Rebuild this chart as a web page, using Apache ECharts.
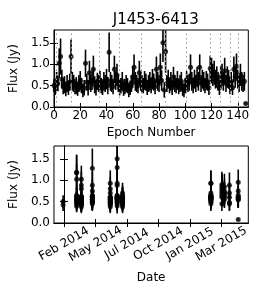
<!DOCTYPE html>
<html>
<head>
<meta charset="utf-8">
<script src="https://cdn.jsdelivr.net/npm/echarts@6/dist/echarts.min.js"></script>
<style>html,body{margin:0;padding:0;background:#fff}#c{width:263px;height:300px}</style>
</head>
<body>
<div id="c"></div>
<script>
// Flux per epoch (Jy), epochs 0..146
const fluxValues = [
0.50,0.42,0.62,0.55,1.02,1.18,0.65,0.48,0.52,0.40,
0.55,0.45,0.58,1.18,0.60,0.55,0.48,0.50,0.42,0.55,
0.62,0.50,0.38,0.45,1.02,0.58,0.45,0.80,0.55,0.62,
0.88,0.52,0.45,0.60,0.55,0.62,0.50,0.45,0.60,0.55,
0.65,0.50,1.28,0.60,0.55,0.48,0.88,0.62,0.75,0.55,
0.45,0.50,0.60,0.42,0.48,0.55,0.50,0.38,0.45,0.55,
0.70,0.93,0.60,0.55,0.50,0.80,0.60,0.55,0.50,0.62,
0.58,0.45,0.55,0.60,0.50,0.65,0.58,0.48,0.88,0.60,
0.55,0.93,0.62,1.50,0.40,1.30,0.55,0.65,0.50,0.60,
0.45,0.70,0.55,0.50,0.62,0.48,0.55,0.60,0.42,0.38,
0.50,0.62,0.55,0.58,0.93,0.60,0.50,0.65,0.55,0.70,
0.60,0.93,0.55,0.65,0.60,0.50,0.62,0.58,0.45,0.90,
0.85,0.75,0.80,0.65,0.70,0.60,0.45,0.70,0.75,0.60,
0.85,0.55,0.70,0.65,0.48,0.60,0.45,0.88,0.70,0.95,
0.65,0.55,0.75,0.60,0.55,0.60,0.08
];
const fluxErrors = [
0.15,0.14,0.20,0.18,0.35,0.42,0.22,0.18,0.20,0.15,
0.20,0.17,0.20,0.40,0.22,0.20,0.18,0.20,0.16,0.20,
0.22,0.18,0.15,0.18,0.32,0.20,0.18,0.28,0.20,0.22,
0.32,0.20,0.18,0.20,0.20,0.22,0.18,0.17,0.22,0.20,
0.24,0.20,0.46,0.22,0.20,0.18,0.32,0.22,0.26,0.20,
0.18,0.18,0.22,0.16,0.18,0.20,0.18,0.15,0.17,0.20,
0.25,0.30,0.22,0.20,0.18,0.28,0.22,0.20,0.18,0.22,
0.20,0.17,0.20,0.22,0.18,0.24,0.20,0.18,0.30,0.22,
0.20,0.32,0.24,0.45,0.18,0.50,0.20,0.22,0.18,0.22,
0.17,0.24,0.20,0.18,0.22,0.18,0.20,0.22,0.16,0.15,
0.18,0.22,0.20,0.20,0.30,0.22,0.18,0.22,0.20,0.24,
0.22,0.30,0.20,0.22,0.22,0.18,0.22,0.20,0.17,0.30,
0.30,0.26,0.28,0.22,0.25,0.22,0.17,0.25,0.26,0.22,
0.30,0.20,0.25,0.22,0.18,0.22,0.17,0.30,0.25,0.30,
0.22,0.20,0.26,0.22,0.20,0.22,0.02
];
// observing sessions: first epoch index of each, and its position on the date axis (tick units)
const sessionStart = [0, 2, 14, 35, 50, 67, 86, 101, 119, 127, 134, 139];
const sessionDatePos = [-0.03, 0.40, 0.55, 0.90, 1.47, 1.69, 1.86, 4.67, 5.02, 5.10, 5.26, 5.54];
// dotted separators on the epoch axis
const separators = [1.5, 13.5, 34.5, 50, 66.5, 84.8, 100.5, 118.7, 126.9, 134, 140.3];
const epochTicks = [0, 20, 40, 60, 80, 100, 120, 140];
const fluxTicks = [0, 0.5, 1.0, 1.5];
const dateTickLabels = ['Feb 2014', 'May 2014', 'Jul 2014', 'Oct 2014', 'Jan 2015', 'Mar 2015'];

const FONT = 'DejaVu Sans';
const topData = fluxValues.map((v, i) => [i, v, fluxErrors[i]]);
const botData = fluxValues.map((v, i) => {
  let g = 0;
  for (let k = 0; k < sessionStart.length; k++) if (i >= sessionStart[k]) g = k;
  return [sessionDatePos[g], v, fluxErrors[i]];
});
const dateTickPos = dateTickLabels.map((_, i) => i);

function errRender(params, api) {
  const x = api.value(0), y = api.value(1), e = api.value(2);
  const p1 = api.coord([x, y - e]);
  const p2 = api.coord([x, y + e]);
  return {type: 'line', shape: {x1: p1[0], y1: p1[1], x2: p2[0], y2: p2[1]},
    style: {stroke: '#000', lineWidth: 1.6}};
}

const tickStyle = {inside: true, length: 4, lineStyle: {color: '#000', width: 1}};
const lineStyle = {show: true, lineStyle: {color: '#000', width: 1}};
const labStyle = {color: '#000', fontFamily: FONT, fontSize: 12};

function yAx(gi, pos, labels) {
  return {type: 'value', gridIndex: gi, position: pos, min: 0, max: 1.8,
    axisLine: lineStyle, splitLine: {show: false},
    axisTick: Object.assign({customValues: fluxTicks}, tickStyle),
    axisLabel: labels ? Object.assign({customValues: fluxTicks, margin: 4,
      formatter: v => v.toFixed(1)}, labStyle) : {show: false},
    name: labels ? 'Flux (Jy)' : '', nameLocation: 'middle', nameGap: 31,
    nameTextStyle: {color: '#000', fontFamily: FONT, fontSize: 12}};
}

const chart = echarts.init(document.getElementById('c'), null, {renderer: 'canvas'});
chart.setOption({
  animation: false,
  backgroundColor: '#fff',
  title: {text: 'J1453-6413', left: 150.8, top: 8, textAlign: 'center',
    textStyle: {color: '#000', fontFamily: FONT, fontSize: 15, fontWeight: 'normal'}},
  grid: [
    {left: 53.3, right: 14.7, top: 30, height: 77, show: true, borderColor: '#000', borderWidth: 1},
    {left: 53.3, right: 14.7, top: 146, height: 77, show: true, borderColor: '#000', borderWidth: 1}
  ],
  xAxis: [
    {type: 'value', gridIndex: 0, position: 'bottom', min: 0, max: 148,
      axisLine: lineStyle, splitLine: {show: false},
      axisTick: Object.assign({customValues: epochTicks}, tickStyle),
      axisLabel: Object.assign({customValues: epochTicks, margin: 3}, labStyle),
      name: 'Epoch Number', nameLocation: 'middle', nameGap: 20,
      nameTextStyle: {color: '#000', fontFamily: FONT, fontSize: 12}},
    {type: 'value', gridIndex: 0, position: 'top', min: 0, max: 148,
      axisLine: lineStyle, splitLine: {show: false},
      axisTick: Object.assign({customValues: epochTicks}, tickStyle),
      axisLabel: {show: false}},
    {type: 'value', gridIndex: 1, position: 'bottom', min: -0.32, max: 5.86,
      axisLine: lineStyle, splitLine: {show: false},
      axisTick: Object.assign({customValues: dateTickPos}, tickStyle),
      axisLabel: Object.assign({customValues: dateTickPos, rotate: 30, align: 'center',
        verticalAlign: 'middle', margin: 21,
        formatter: v => dateTickLabels[Math.round(v)] || ''}, labStyle),
      name: 'Date', nameLocation: 'middle', nameGap: 49,
      nameTextStyle: {color: '#000', fontFamily: FONT, fontSize: 12}},
    {type: 'value', gridIndex: 1, position: 'top', min: -0.32, max: 5.86,
      axisLine: lineStyle, splitLine: {show: false},
      axisTick: Object.assign({customValues: dateTickPos}, tickStyle),
      axisLabel: {show: false}}
  ],
  yAxis: [yAx(0, 'left', true), yAx(0, 'right', false), yAx(1, 'left', true), yAx(1, 'right', false)],
  series: [
    {type: 'custom', xAxisIndex: 0, yAxisIndex: 0, renderItem: errRender, data: topData, clip: true,
      encode: {x: 0, y: 1}, silent: true,
      markLine: {silent: true, symbol: 'none', label: {show: false},
        lineStyle: {color: '#999', type: [1.5, 3], width: 1},
        data: separators.map(s => ({xAxis: s}))}},
    {type: 'scatter', xAxisIndex: 0, yAxisIndex: 0, data: topData.map(d => [d[0], d[1]]),
      symbol: 'circle', symbolSize: 5, itemStyle: {color: '#000'}, clip: true, silent: true},
    {type: 'custom', xAxisIndex: 2, yAxisIndex: 2, renderItem: errRender, data: botData, clip: true,
      encode: {x: 0, y: 1}, silent: true},
    {type: 'scatter', xAxisIndex: 2, yAxisIndex: 2, data: botData.map(d => [d[0], d[1]]),
      symbol: 'circle', symbolSize: 5, itemStyle: {color: '#000'}, clip: true, silent: true}
  ]
});
</script>
</body>
</html>
